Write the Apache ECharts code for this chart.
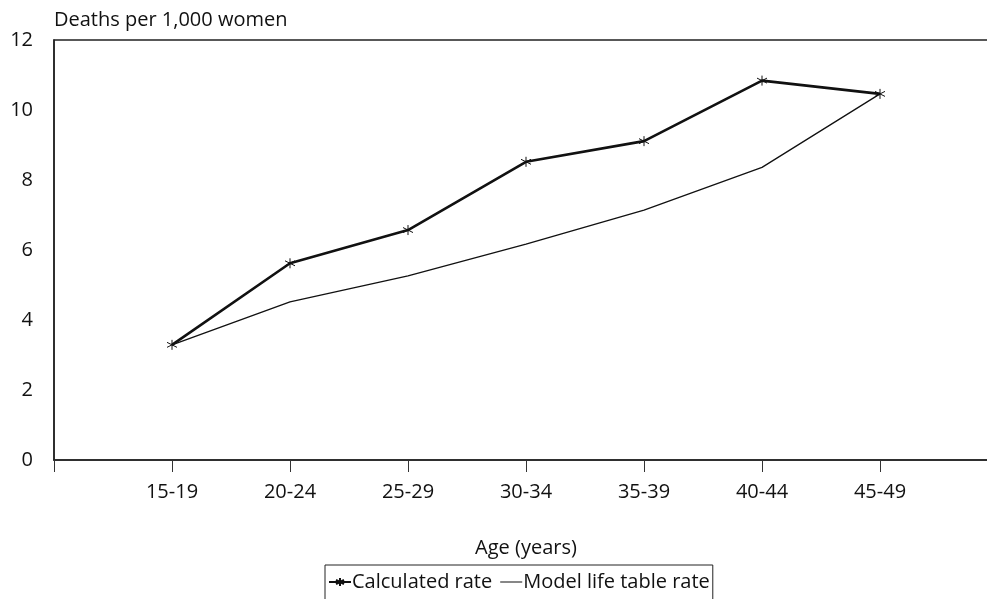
<!DOCTYPE html>
<html><head><meta charset="utf-8">
<script src="https://cdn.jsdelivr.net/npm/echarts@6/dist/echarts.min.js"></script>
<style>html,body{margin:0;padding:0;background:#fff}#c{width:987px;height:599px}</style>
</head><body><div id="c"></div>
<script>
var categories = ['15-19','20-24','25-29','30-34','35-39','40-44','45-49'];
var calculatedRate = [3.29, 5.62, 6.57, 8.52, 9.11, 10.84, 10.46];
var modelRate = [3.29, 4.52, 5.26, 6.17, 7.14, 8.36, 10.46];
var yTicks = [0, 2, 4, 6, 8, 10, 12];

var FONT = 'Open Sans';
var star = 'path://M0,-5L0,5M-4.3,-2.5L4.3,2.5M-4.3,2.5L4.3,-2.5';
var plainLine = 'path://M0,0L22,0L22,0.001Z M0,4.4L22,4.4L22,5.6L0,5.6Z M0,10L0.001,10L0,10Z';
function toPts(arr){ return arr.map(function(v,i){ return [i+1, v]; }); }

var chart = echarts.init(document.getElementById('c'), null, {renderer:'canvas'});
chart.setOption({
  animation:false,
  backgroundColor:'#fff',
  textStyle:{fontFamily:FONT, color:'#111'},
  grid:{left:54, width:944, top:40, height:420, outerBoundsMode:'none', containLabel:false,
        show:true, borderColor:'#222', borderWidth:1.5, backgroundColor:'transparent'},
  xAxis:{
    type:'value', min:0, max:8, interval:1,
    name:'Age (years)', nameLocation:'middle', nameGap:78,
    nameTextStyle:{fontFamily:FONT, fontSize:20, color:'#111'},
    axisLine:{show:true, lineStyle:{color:'#222', width:1.5}},
    axisTick:{show:true, length:12, lineStyle:{color:'#333', width:1}},
    splitLine:{show:false},
    axisLabel:{margin:22, fontFamily:FONT, fontSize:20, color:'#111',
      formatter:function(v){ return categories[v-1] || ''; }}
  },
  yAxis:{
    type:'value', min:yTicks[0], max:yTicks[yTicks.length-1], interval:2,
    name:'Deaths per 1,000 women', nameLocation:'end', nameGap:10,
    nameTextStyle:{fontFamily:FONT, fontSize:20, color:'#111', align:'left'},
    axisLine:{show:true, lineStyle:{color:'#222', width:1.5}},
    axisTick:{show:false},
    splitLine:{show:false},
    axisLabel:{margin:21, fontFamily:FONT, fontSize:20, color:'#111'}
  },
  legend:{
    top:565, left:325,
    data:[{name:'Calculated rate'},{name:'Model life table rate', icon:plainLine}],
    borderColor:'#222', borderWidth:1, padding:[7,3,12,3],
    itemWidth:22, itemHeight:10, itemGap:8,
    textStyle:{fontFamily:FONT, fontSize:20, color:'#111', padding:[0,0,0,-4]}
  },
  series:[
    {name:'Calculated rate', type:'line', data:toPts(calculatedRate),
     symbol:star, symbolSize:10, showSymbol:true,
     lineStyle:{color:'#111', width:2.6},
     itemStyle:{color:'#111', borderColor:'#111', borderWidth:1}},
    {name:'Model life table rate', type:'line', data:toPts(modelRate),
     symbol:'none',
     lineStyle:{color:'#111', width:1.3},
     itemStyle:{color:'#111'}}
  ]
});
</script></body></html>
